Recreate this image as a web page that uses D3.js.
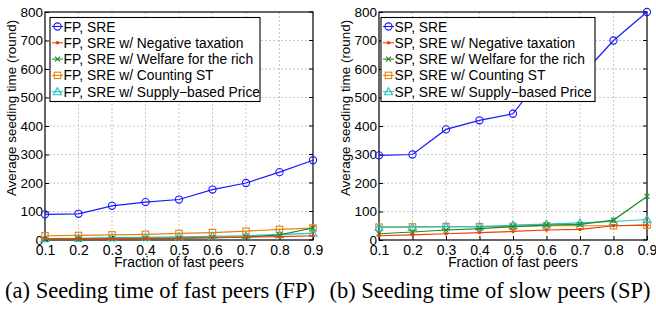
<!DOCTYPE html>
<html>
<head>
<meta charset="utf-8">
<script src="https://cdn.jsdelivr.net/npm/d3@7"></script>
<style>
	body { margin: 0; background: #fff; }
	svg { display: block; }
</style>
</head>
<body>
<div id="chart"></div>
<script>
// fraction of fast peers (x values)
var fractions = [0.1, 0.2, 0.3, 0.4, 0.5, 0.6, 0.7, 0.8, 0.9];
var yTicks = [0, 100, 200, 300, 400, 500, 600, 700, 800];

var seriesNames = [
	"SRE",
	"SRE w/ Negative taxation",
	"SRE w/ Welfare for the rich",
	"SRE w/ Counting ST",
	"SRE w/ Supply\u2212based Price"
];

// (a) fast peers
var fpSRE      = [90, 92, 120, 133, 142, 177, 200, 238, 280];
var fpNegTax   = [3, 4, 5, 6, 7, 8, 10, 12, 15];
var fpWelfare  = [2, 3, 4, 5, 6, 8, 10, 18, 42];
var fpCounting = [15, 16, 18, 20, 23, 26, 31, 37, 42];
var fpSupply   = [5, 6, 8, 9, 11, 13, 15, 19, 24];

// (b) slow peers
var spSRE      = [297, 300, 388, 420, 443, 595, 572, 700, 800];
var spNegTax   = [15, 18, 22, 26, 30, 35, 37, 50, 52];
var spWelfare  = [22, 28, 35, 40, 47, 52, 55, 70, 153];
var spCounting = [45, 46, 47, 47, 48, 50, 50, 50, 52];
var spSupply   = [45, 45, 47, 47, 52, 56, 60, 65, 72];

var colors = ["#1a1aff", "#f23c0a", "#1e8c1e", "#e8820c", "#22c4c4"];
var markers = ["circle", "dot", "cross", "square", "triangle"];

var svg = d3.select("#chart").append("svg")
	.attr("width", 656)
	.attr("height", 310)
	.style("font-family", "'Liberation Sans', Arial, Helvetica, sans-serif");

function drawMarker(g, type, color, x, y) {
	if(type == "circle") {
		g.append("circle").attr("cx", x).attr("cy", y).attr("r", 3.6)
			.attr("fill", "none").attr("stroke", color).attr("stroke-width", 1.1);
	} else if(type == "dot") {
		g.append("circle").attr("cx", x).attr("cy", y).attr("r", 1.8)
			.attr("fill", color);
	} else if(type == "cross") {
		var s = 2.5;
		g.append("path")
			.attr("d", "M" + (x - s) + "," + (y - s) + "L" + (x + s) + "," + (y + s) +
				"M" + (x - s) + "," + (y + s) + "L" + (x + s) + "," + (y - s))
			.attr("stroke", color).attr("stroke-width", 1.1);
	} else if(type == "square") {
		g.append("rect").attr("x", x - 3.2).attr("y", y - 3.2).attr("width", 6.4).attr("height", 6.4)
			.attr("fill", "none").attr("stroke", color).attr("stroke-width", 1.1);
	} else if(type == "triangle") {
		g.append("path")
			.attr("d", "M" + x + "," + (y - 4) + "L" + (x + 4) + "," + (y + 3) + "L" + (x - 4) + "," + (y + 3) + "Z")
			.attr("fill", "none").attr("stroke", color).attr("stroke-width", 1.1);
	}
}

function drawPanel(opts) {
	var x = d3.scaleLinear().domain([0.1, 0.9]).range([opts.left, opts.right]);
	var y = d3.scaleLinear().domain([0, 800]).range([opts.bottom, opts.top]);
	var g = svg.append("g");

	// dotted grid
	g.append("g").selectAll("line.vg")
		.data(fractions.slice(1, -1)).enter()
		.append("line")
			.attr("x1", function(d) { return x(d); })
			.attr("x2", function(d) { return x(d); })
			.attr("y1", opts.top).attr("y2", opts.bottom)
			.attr("stroke", "#c8c8c8").attr("stroke-dasharray", "2,2").attr("stroke-width", 1);
	g.append("g").selectAll("line.hg")
		.data(yTicks.slice(1, -1)).enter()
		.append("line")
			.attr("x1", opts.left).attr("x2", opts.right)
			.attr("y1", function(d) { return y(d); })
			.attr("y2", function(d) { return y(d); })
			.attr("stroke", "#c8c8c8").attr("stroke-dasharray", "2,2").attr("stroke-width", 1);

	// frame
	g.append("rect")
		.attr("x", opts.left).attr("y", opts.top)
		.attr("width", opts.right - opts.left).attr("height", opts.bottom - opts.top)
		.attr("fill", "none").attr("stroke", "#000").attr("stroke-width", 1.2);

	// axes
	var xAxis = d3.axisBottom(x).tickValues(fractions).tickSize(-4).tickPadding(5)
		.tickFormat(d3.format(".1f"));
	var yAxis = d3.axisLeft(y).tickValues(yTicks).tickSize(-4).tickPadding(2);
	var xg = g.append("g").attr("transform", "translate(0," + opts.bottom + ")").call(xAxis);
	var yg = g.append("g").attr("transform", "translate(" + opts.left + ",0)").call(yAxis);
	[xg, yg].forEach(function(a) {
		a.select(".domain").remove();
		a.selectAll("text").attr("fill", "#000").style("font-family", null);
		a.selectAll("line").attr("stroke", "#000");
	});
	xg.selectAll("text").style("font-size", "14px");
	yg.selectAll("text").style("font-size", "13.5px");
	// right tick marks
	g.append("g").selectAll("line")
		.data(yTicks).enter()
		.append("line")
			.attr("x1", opts.right).attr("x2", opts.right - 4)
			.attr("y1", function(d) { return y(d); })
			.attr("y2", function(d) { return y(d); })
			.attr("stroke", "#000");

	// axis titles
	g.append("text")
		.attr("x", (opts.left + opts.right) / 2)
		.attr("y", opts.bottom + 26.5)
		.attr("text-anchor", "middle")
		.style("font-size", "13.8px")
		.text("Fraction of fast peers");
	g.append("text")
		.attr("transform", "translate(" + (opts.left - 29) + "," + ((opts.top + opts.bottom) / 2 - 18) + ") rotate(-90)")
		.attr("text-anchor", "middle")
		.style("font-size", "13.4px")
		.text("Average seeding time (round)");

	// series
	var line = d3.line()
		.x(function(d, i) { return x(fractions[i]); })
		.y(function(d) { return y(d); });
	var order = [3, 4, 2, 1, 0];
	order.forEach(function(s) {
		var vals = opts.series[s];
		g.append("path")
			.datum(vals)
			.attr("d", line)
			.attr("fill", "none")
			.attr("stroke", colors[s])
			.attr("stroke-width", 1.2);
		vals.forEach(function(v, i) {
			drawMarker(g, markers[s], colors[s], x(fractions[i]), y(v));
		});
	});

	// legend
	var lg = g.append("g");
	lg.append("rect")
		.attr("x", opts.legX).attr("y", opts.top + 5.5)
		.attr("width", opts.legW).attr("height", 84)
		.attr("fill", "#fff").attr("stroke", "#000").attr("stroke-width", 1.1);
	seriesNames.forEach(function(name, s) {
		var cy = opts.top + 14.5 + s * 16.3;
		lg.append("line")
			.attr("x1", opts.legX + 2).attr("x2", opts.legX + 13)
			.attr("y1", cy).attr("y2", cy)
			.attr("stroke", colors[s]).attr("stroke-width", 1.1);
		drawMarker(lg, markers[s], colors[s], opts.legX + 7.5, cy);
		lg.append("text")
			.attr("x", opts.legX + 13.5)
			.attr("y", cy + 5)
			.style("font-size", "13.8px")
			.text(opts.prefix + ", " + name);
	});

	// caption
	svg.append("text")
		.attr("x", opts.capX)
		.attr("y", 298)
		.attr("text-anchor", "middle")
		.style("font-family", "'Liberation Serif', 'Times New Roman', serif")
		.style("font-size", "22.5px")
		.text(opts.caption);
}

drawPanel({
	left: 45, right: 313, top: 12, bottom: 240,
	legX: 50, legW: 210,
	prefix: "FP",
	series: [fpSRE, fpNegTax, fpWelfare, fpCounting, fpSupply],
	capX: 160,
	caption: "(a) Seeding time of fast peers (FP)"
});
drawPanel({
	left: 379, right: 647, top: 12, bottom: 240,
	legX: 381, legW: 214,
	prefix: "SP",
	series: [spSRE, spNegTax, spWelfare, spCounting, spSupply],
	capX: 490,
	caption: "(b) Seeding time of slow peers (SP)"
});
</script>
</body>
</html>
